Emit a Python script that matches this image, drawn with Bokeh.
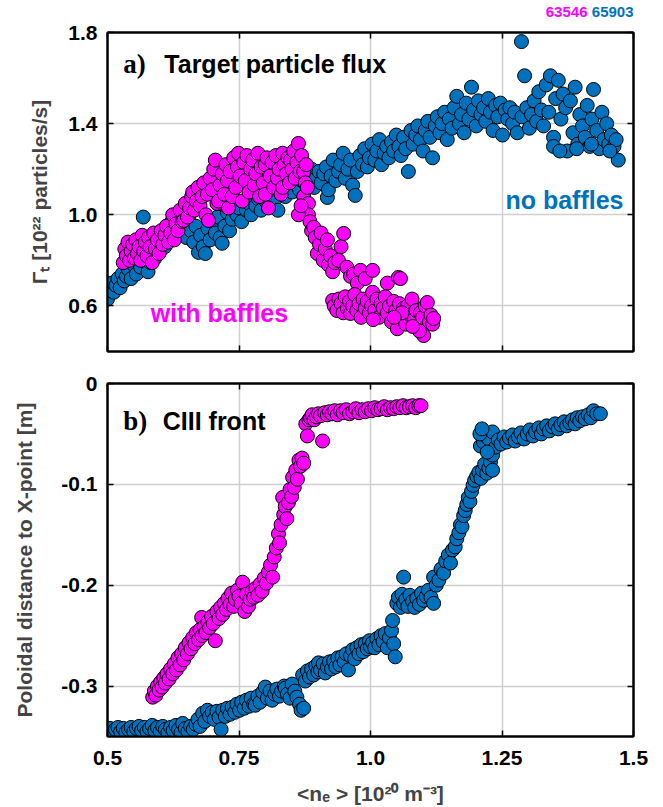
from bokeh.plotting import figure
from bokeh.layouts import column
from bokeh.models import Label, LinearAxis, FixedTicker, Range1d, NumeralTickFormatter, ColumnDataSource
from bokeh.embed import file_html
from bokeh.resources import INLINE

# ---------------- data ----------------
# (a) target particle flux, shot 65903 (no baffles)
flux_65903_ne = [
    0.500,0.504,0.508,0.512,0.516,0.520,0.524,0.528,0.532,0.536,
    0.540,0.545,0.550,0.555,0.559,0.563,0.568,0.572,0.577,0.582,
    0.586,0.590,0.595,0.600,0.604,0.609,0.613,0.618,0.622,0.627,
    0.631,0.636,0.640,0.645,0.650,0.654,0.659,0.664,0.668,0.673,
    0.677,0.682,0.686,0.691,0.695,0.700,0.705,0.709,0.714,0.718,
    0.723,0.728,0.732,0.737,0.741,0.746,0.750,0.755,0.760,0.764,
    0.769,0.773,0.778,0.782,0.787,0.792,0.796,0.801,0.805,0.810,
    0.815,0.819,0.824,0.828,0.833,0.838,0.842,0.847,0.851,0.856,
    0.861,0.865,0.870,0.874,0.879,0.884,0.888,0.893,0.897,0.902,
    0.906,0.911,0.916,0.918,0.920,0.925,0.929,0.934,0.939,0.943,
    0.948,0.952,0.957,0.962,0.966,0.971,0.975,0.980,0.985,0.989,
    0.994,0.998,1.003,1.008,1.012,1.017,1.021,1.026,1.031,1.035,
    1.040,1.044,1.049,1.054,1.058,1.063,1.067,1.072,1.077,1.081,
    1.086,1.090,1.095,1.100,1.104,1.109,1.113,1.118,1.123,1.127,
    1.132,1.136,1.141,1.146,1.150,1.155,1.159,1.164,1.169,1.173,
    1.178,1.182,1.187,1.192,1.196,1.201,1.205,1.210,1.215,1.219,
    1.224,1.228,1.233,1.238,1.242,1.247,1.251,1.256,1.261,1.265,
    1.270,1.274,1.279,1.287,1.293,1.288,1.297,1.302,1.306,1.311,
    1.316,1.320,1.325,1.329,1.334,1.339,1.342,1.348,1.352,1.357,
    1.362,1.366,1.371,1.374,1.380,1.385,1.389,1.394,1.398,1.403,
    1.408,1.412,1.417,1.421,1.424,1.430,1.435,1.440,1.444,1.449,
    1.453,1.458,1.463,1.467,1.471,1.348,1.360,1.392,1.420,1.455,
]
flux_65903 = [
    0.63,0.67,0.70,0.66,0.69,0.72,0.68,0.74,0.71,0.73,
    0.76,0.72,0.78,0.74,0.80,0.77,0.99,0.82,0.75,0.79,
    0.85,0.81,0.88,0.84,0.91,0.86,0.95,0.89,0.97,0.92,
    0.98,0.94,1.01,0.96,0.90,0.99,0.93,0.88,0.95,0.835,
    0.91,0.86,0.83,0.94,0.89,0.97,0.92,0.99,0.90,0.875,
    0.95,1.01,0.93,0.98,1.04,1.00,1.03,0.97,1.06,1.02,
    1.05,1.00,1.08,1.04,1.07,1.02,1.10,1.06,1.09,1.04,
    1.12,1.07,1.02,1.10,1.14,1.08,1.12,1.16,1.10,1.14,
    1.18,1.11,1.15,1.21,1.13,1.17,1.20,1.12,1.16,1.19,
    1.14,1.18,1.21,1.076,1.11,1.17,1.24,1.15,1.19,1.22,
    1.27,1.16,1.20,1.24,1.13,1.085,1.19,1.26,1.22,1.29,
    1.21,1.25,1.31,1.24,1.28,1.33,1.22,1.27,1.30,1.25,
    1.32,1.28,1.35,1.30,1.26,1.34,1.29,1.19,1.37,1.31,
    1.35,1.39,1.33,1.28,1.37,1.41,1.34,1.25,1.39,1.43,
    1.36,1.40,1.45,1.33,1.42,1.38,1.47,1.52,1.40,1.44,
    1.36,1.49,1.42,1.56,1.46,1.39,1.50,1.44,1.47,1.41,
    1.51,1.45,1.37,1.48,1.43,1.49,1.35,1.46,1.42,1.47,
    1.40,1.45,1.36,1.76,1.61,1.43,1.47,1.38,1.44,1.50,
    1.41,1.54,1.46,1.39,1.57,1.45,1.61,1.34,1.51,1.59,
    1.42,1.53,1.47,1.28,1.50,1.36,1.56,1.31,1.44,1.39,
    1.34,1.48,1.30,1.42,1.55,1.37,1.29,1.45,1.33,1.40,
    1.31,1.35,1.30,1.33,1.24,1.30,1.28,1.29,1.31,1.28,
]

# (a) target particle flux, shot 63546 (with baffles)
flux_63546_ne = [
    0.530,0.533,0.536,0.539,0.542,0.545,0.548,0.551,0.554,0.557,
    0.560,0.563,0.566,0.569,0.572,0.575,0.578,0.581,0.585,0.588,
    0.591,0.595,0.598,0.602,0.605,0.609,0.612,0.616,0.620,0.624,
    0.627,0.630,0.634,0.638,0.642,0.645,0.648,0.652,0.656,0.660,
    0.662,0.665,0.669,0.672,0.676,0.680,0.683,0.687,0.690,0.692,
    0.695,0.699,0.702,0.705,0.708,0.711,0.714,0.718,0.722,0.725,
    0.728,0.730,0.733,0.737,0.740,0.744,0.747,0.749,0.752,0.756,
    0.759,0.762,0.765,0.769,0.772,0.776,0.779,0.782,0.786,0.789,
    0.792,0.796,0.800,0.800,0.803,0.806,0.809,0.813,0.816,0.820,
    0.823,0.826,0.830,0.833,0.833,0.836,0.840,0.843,0.846,0.848,
    0.851,0.854,0.857,0.860,0.863,0.866,0.869,0.873,0.873,0.876,
    0.878,0.880,0.882,0.882,0.863,0.868,0.885,0.888,0.892,0.895,
    0.899,0.903,0.906,0.910,0.914,0.918,0.920,0.924,0.928,0.932,
    0.939,0.944,0.949,0.955,0.962,0.968,0.975,0.981,0.990,1.004,
    1.032,1.053,1.057,0.928,0.931,0.936,0.940,0.944,0.948,0.952,
    0.956,0.960,0.962,0.966,0.970,0.974,0.978,0.982,0.986,0.990,
    0.994,0.998,1.002,1.004,1.008,1.012,1.016,1.020,1.024,1.028,
    1.032,1.036,1.040,1.044,1.048,1.051,1.055,1.059,1.063,1.067,
    1.071,1.075,1.079,1.083,1.087,1.091,1.095,1.099,1.101,1.104,
    1.108,1.112,1.115,1.118,1.120,1.093,1.080,1.060,1.045,1.005,
]
flux_63546 = [
    0.79,0.85,0.82,0.88,0.80,0.84,0.87,0.81,0.89,0.83,
    0.86,0.80,0.91,0.84,0.88,0.82,0.90,0.86,0.79,0.92,
    0.85,0.89,0.83,0.93,0.87,0.91,0.95,0.88,0.92,1.00,
    0.89,0.96,0.93,1.02,0.97,0.975,1.05,0.99,1.03,1.08,
    1.10,1.02,1.06,1.12,1.04,1.08,1.14,1.00,1.09,0.975,
    1.16,1.11,1.20,1.24,1.05,1.06,1.13,1.18,1.09,1.22,
    1.15,1.03,1.19,1.08,1.25,1.12,1.21,1.27,1.17,1.06,
    1.23,1.15,1.26,1.10,1.20,1.24,1.13,1.18,1.27,1.08,
    1.21,1.14,1.22,1.09,1.25,1.03,1.17,1.23,1.12,1.26,
    1.16,1.20,1.09,1.27,1.12,1.22,1.18,1.25,1.14,1.24,
    1.20,1.28,1.16,1.23,1.313,1.19,1.26,1.19,1.08,1.14,
    1.22,1.12,1.05,1.00,1.00,1.04,0.97,0.93,0.945,0.90,
    0.83,0.87,0.92,0.80,0.85,0.89,0.78,0.82,0.75,0.79,
    0.80,0.86,0.918,0.77,0.73,0.74,0.70,0.756,0.72,0.756,
    0.70,0.725,0.72,0.624,0.60,0.58,0.63,0.61,0.57,0.64,
    0.59,0.62,0.567,0.60,0.65,0.58,0.61,0.55,0.63,0.59,
    0.62,0.57,0.60,0.66,0.58,0.63,0.55,0.61,0.59,0.64,
    0.57,0.60,0.53,0.62,0.58,0.50,0.61,0.55,0.59,0.52,
    0.60,0.56,0.63,0.54,0.58,0.51,0.57,0.55,0.47,0.60,
    0.615,0.53,0.56,0.52,0.545,0.49,0.51,0.57,0.55,0.54,
]

# (b) CIII front position, shot 63546
front_63546_ne = [
    0.586,0.589,0.592,0.595,0.598,0.601,0.604,0.607,0.610,0.613,
    0.617,0.620,0.624,0.627,0.631,0.634,0.638,0.641,0.645,0.648,
    0.652,0.655,0.659,0.662,0.666,0.669,0.673,0.676,0.679,0.680,
    0.684,0.687,0.691,0.694,0.698,0.701,0.705,0.708,0.712,0.715,
    0.719,0.722,0.726,0.729,0.733,0.736,0.740,0.743,0.747,0.750,
    0.754,0.757,0.761,0.764,0.768,0.771,0.775,0.778,0.782,0.786,
    0.790,0.794,0.798,0.802,0.806,0.810,0.814,0.817,0.821,0.825,
    0.827,0.830,0.833,0.835,0.838,0.841,0.844,0.847,0.850,0.852,
    0.855,0.858,0.861,0.864,0.867,0.870,0.873,0.877,0.880,0.883,
    0.886,0.889,0.893,0.897,0.901,0.905,0.909,0.913,0.918,0.922,
    0.927,0.932,0.937,0.943,0.948,0.954,0.960,0.966,0.972,0.978,
    0.984,0.990,0.996,1.002,1.008,1.014,1.020,1.026,1.032,1.038,
    1.044,1.050,1.056,1.062,1.068,1.074,1.080,1.086,1.092,1.096,
]
front_63546 = [
    -0.311,-0.305,-0.309,-0.300,-0.304,-0.296,-0.301,-0.292,-0.297,-0.288,
    -0.293,-0.283,-0.288,-0.278,-0.284,-0.272,-0.279,-0.268,-0.274,-0.262,
    -0.268,-0.257,-0.263,-0.252,-0.258,-0.247,-0.254,-0.244,-0.232,-0.250,
    -0.241,-0.247,-0.236,-0.242,-0.231,-0.238,-0.255,-0.226,-0.233,-0.222,
    -0.229,-0.218,-0.224,-0.213,-0.219,-0.208,-0.221,-0.214,-0.205,-0.211,
    -0.218,-0.197,-0.226,-0.209,-0.221,-0.214,-0.206,-0.212,-0.203,-0.210,
    -0.199,-0.206,-0.193,-0.198,-0.187,-0.180,-0.192,-0.172,-0.163,-0.149,
    -0.158,-0.140,-0.113,-0.130,-0.122,-0.134,-0.118,-0.105,-0.112,-0.093,
    -0.103,-0.086,-0.095,-0.076,-0.082,-0.074,-0.079,-0.040,-0.052,-0.036,
    -0.034,-0.031,-0.036,-0.033,-0.030,-0.032,-0.057,-0.029,-0.031,-0.028,
    -0.030,-0.027,-0.031,-0.027,-0.029,-0.026,-0.030,-0.028,-0.025,-0.029,
    -0.026,-0.028,-0.025,-0.027,-0.024,-0.026,-0.025,-0.023,-0.026,-0.024,
    -0.025,-0.023,-0.024,-0.022,-0.024,-0.023,-0.022,-0.024,-0.022,-0.022,
]

# (b) CIII front position, shot 65903
front_65903_ne = [
    0.500,0.505,0.510,0.515,0.520,0.525,0.530,0.535,0.540,0.545,
    0.550,0.555,0.560,0.565,0.570,0.575,0.580,0.585,0.590,0.595,
    0.600,0.605,0.610,0.615,0.620,0.625,0.630,0.635,0.640,0.643,
    0.648,0.653,0.658,0.663,0.668,0.672,0.676,0.681,0.685,0.690,
    0.694,0.699,0.703,0.708,0.712,0.716,0.719,0.724,0.728,0.733,
    0.737,0.742,0.746,0.751,0.755,0.760,0.764,0.769,0.773,0.778,
    0.781,0.786,0.790,0.795,0.800,0.804,0.809,0.813,0.818,0.822,
    0.827,0.831,0.836,0.838,0.842,0.847,0.851,0.856,0.860,0.865,
    0.868,0.871,0.873,0.876,0.880,0.884,0.888,0.892,0.896,0.900,
    0.901,0.905,0.910,0.914,0.918,0.922,0.926,0.930,0.934,0.938,
    0.942,0.946,0.950,0.954,0.958,0.962,0.966,0.970,0.974,0.978,
    0.982,0.986,0.990,0.994,0.998,1.000,1.004,1.008,1.012,1.016,
    1.020,1.024,1.028,1.032,1.036,1.040,1.042,1.044,1.047,1.050,
    1.053,1.057,1.060,1.063,1.063,1.067,1.071,1.075,1.080,1.084,
    1.088,1.093,1.097,1.101,1.106,1.110,1.115,1.120,1.120,1.125,
    1.130,1.134,1.139,1.143,1.148,1.152,1.156,1.161,1.164,1.168,
    1.171,1.174,1.177,1.180,1.183,1.186,1.189,1.192,1.195,1.198,
    1.202,1.206,1.210,1.213,1.217,1.221,1.225,1.228,1.232,1.232,
    1.209,1.215,1.220,1.225,1.232,1.238,1.243,1.248,1.254,1.259,
    1.264,1.270,1.275,1.281,1.286,1.292,1.298,1.303,1.309,1.314,
    1.320,1.325,1.329,1.335,1.340,1.346,1.351,1.357,1.362,1.368,
    1.373,1.379,1.384,1.389,1.393,1.398,1.403,1.408,1.414,1.419,
    1.424,1.430,1.437,1.208,1.212,1.222,
]
front_65903 = [
    -0.345,-0.342,-0.346,-0.343,-0.341,-0.345,-0.342,-0.346,-0.343,-0.341,
    -0.345,-0.342,-0.340,-0.344,-0.341,-0.345,-0.342,-0.339,-0.344,-0.341,
    -0.345,-0.340,-0.343,-0.346,-0.341,-0.344,-0.339,-0.343,-0.346,-0.337,
    -0.342,-0.345,-0.340,-0.343,-0.338,-0.333,-0.340,-0.327,-0.335,-0.324,
    -0.330,-0.326,-0.333,-0.325,-0.331,-0.343,-0.324,-0.330,-0.322,-0.328,
    -0.321,-0.326,-0.318,-0.324,-0.316,-0.322,-0.314,-0.320,-0.312,-0.318,
    -0.319,-0.310,-0.316,-0.306,-0.301,-0.312,-0.305,-0.314,-0.308,-0.303,
    -0.310,-0.305,-0.300,-0.302,-0.308,-0.312,-0.298,-0.305,-0.311,-0.318,
    -0.324,-0.289,-0.322,-0.295,-0.285,-0.291,-0.283,-0.289,-0.280,-0.286,
    -0.277,-0.284,-0.278,-0.287,-0.281,-0.276,-0.283,-0.275,-0.281,-0.272,
    -0.279,-0.271,-0.276,-0.268,-0.284,-0.270,-0.264,-0.273,-0.262,-0.268,
    -0.259,-0.266,-0.258,-0.263,-0.255,-0.261,-0.257,-0.262,-0.253,-0.259,
    -0.250,-0.256,-0.248,-0.262,-0.252,-0.245,-0.235,-0.258,-0.271,-0.218,
    -0.212,-0.222,-0.209,-0.192,-0.218,-0.214,-0.221,-0.210,-0.216,-0.222,
    -0.213,-0.219,-0.208,-0.215,-0.211,-0.205,-0.212,-0.218,-0.192,-0.200,
    -0.195,-0.184,-0.188,-0.176,-0.170,-0.178,-0.165,-0.162,-0.154,-0.148,
    -0.140,-0.142,-0.131,-0.126,-0.120,-0.113,-0.117,-0.107,-0.101,-0.096,
    -0.092,-0.088,-0.094,-0.086,-0.080,-0.089,-0.084,-0.078,-0.086,-0.071,
    -0.062,-0.058,-0.052,-0.055,-0.048,-0.063,-0.056,-0.060,-0.053,-0.058,
    -0.054,-0.051,-0.057,-0.053,-0.049,-0.055,-0.050,-0.046,-0.052,-0.048,
    -0.044,-0.050,-0.045,-0.042,-0.047,-0.043,-0.040,-0.045,-0.041,-0.038,
    -0.042,-0.039,-0.036,-0.040,-0.034,-0.037,-0.033,-0.035,-0.031,-0.034,
    -0.027,-0.030,-0.030,-0.050,-0.045,-0.068,
]

x_ticks = [0.5, 0.75, 1.0, 1.25, 1.5]
flux_ticks = [0.6, 1.0, 1.4, 1.8]
front_ticks = [-0.3, -0.2, -0.1, 0.0]
shots = ["63546", "65903"]

# ---------------- styles ----------------
MAGENTA = "#FF00FF"
BLUE = "#0072BD"
SANS = "'Liberation Sans', Arial, sans-serif"
SERIF = "'Liberation Serif', 'Times New Roman', serif"
W_LEFT, W_FRAME, W_RIGHT = 107, 526, 30
HDR_H = 20


def style_axis(ax, ticks, fmt, show_labels, standoff=10):
    ax.ticker = FixedTicker(ticks=ticks, minor_ticks=[])
    ax.formatter = NumeralTickFormatter(format=fmt)
    ax.major_tick_in = 6
    ax.major_tick_out = 0
    ax.minor_tick_in = 0
    ax.minor_tick_out = 0
    ax.major_tick_line_color = "black"
    ax.major_tick_line_width = 1.5
    ax.axis_line_color = "black"
    ax.axis_line_width = 2
    if show_labels:
        ax.major_label_text_font = SANS
        ax.major_label_text_font_style = "bold"
        ax.major_label_text_font_size = "21px"
        ax.major_label_text_color = "black"
        ax.major_label_standoff = standoff
    else:
        ax.major_label_text_font_size = "1px"
        ax.major_label_text_color = None
        ax.major_label_standoff = 0
        ax.axis_label_standoff = 0


def make_panel(yr, yticks, yfmt, frame_h, top_b, bot_b, show_x, top_axis=True):
    p = figure(frame_width=W_FRAME, frame_height=frame_h,
               x_range=Range1d(0.5, 1.5), y_range=Range1d(*yr),
               output_backend="svg", toolbar_location=None,
               min_border_left=W_LEFT, min_border_right=W_RIGHT,
               min_border_top=top_b, min_border_bottom=bot_b,
               background_fill_color="white", border_fill_color="white")
    p.outline_line_color = "black"
    p.outline_line_width = 2
    p.outline_line_alpha = 1
    xb = p.xaxis[0]
    yl = p.yaxis[0]
    style_axis(xb, x_ticks, "0.0[0]", show_x, standoff=14)
    style_axis(yl, yticks, yfmt, True, standoff=10)
    extra = [("right", yticks)]
    if top_axis:
        extra.append(("above", x_ticks))
    for place, rng_ticks in extra:
        ax = LinearAxis()
        style_axis(ax, rng_ticks, "0.0", False)
        p.add_layout(ax, place)
    p.xgrid.ticker = FixedTicker(ticks=x_ticks)
    p.ygrid.ticker = FixedTicker(ticks=yticks)
    for g in (p.xgrid[0], p.ygrid[0]):
        g.grid_line_color = "#cfcfcf"
        g.grid_line_width = 1.5
    return p, xb, yl


def add_series(p, xs, ys, color):
    src = ColumnDataSource(dict(x=xs, y=ys))
    p.scatter("x", "y", source=src, size=14, marker="circle",
              fill_color=color, line_color="black", line_width=1)


def add_text(p, x, y, text, font, size, color="black", align="left", baseline="alphabetic"):
    p.add_layout(Label(x=x, y=y, text=text, text_font=font, text_font_style="bold",
                       text_font_size=size, text_color=color, text_align=align,
                       text_baseline=baseline))


# ---------------- shot-number header (same horizontal frame as the panels) ----------------
hdr = figure(frame_width=W_FRAME, frame_height=HDR_H,
             x_range=Range1d(0.5, 1.5), y_range=Range1d(0, HDR_H),
             output_backend="svg", toolbar_location=None,
             min_border_left=W_LEFT, min_border_right=W_RIGHT,
             min_border_top=0, min_border_bottom=0, outline_line_color=None)
hdr.axis.visible = False
hdr.grid.visible = False
add_text(hdr, 1.4125, 8.5, shots[0], SANS, "15px", MAGENTA, align="right", baseline="middle")
add_text(hdr, 1.5, 8.5, shots[1], SANS, "15px", BLUE, align="right", baseline="middle")

# ---------------- panel a ----------------
pa, pa_x, pa_y = make_panel((0.4, 1.8), flux_ticks, "0.0", 319, 32 - HDR_H, 16, False, top_axis=True)
pa_y.axis_label = "Γₜ [10²² particles/s]"
pa_y.axis_label_text_font = SANS
pa_y.axis_label_text_font_style = "bold"
pa_y.axis_label_text_font_size = "21px"
pa_y.axis_label_standoff = 14
add_series(pa, flux_65903_ne, flux_65903, BLUE)
add_series(pa, flux_63546_ne, flux_63546, MAGENTA)
add_text(pa, 0.530, 1.66, "a)", SERIF, "27px")
add_text(pa, 0.608, 1.66, "Target particle flux", SANS, "25px")
add_text(pa, 0.582, 0.567, "with baffles", SANS, "25px", MAGENTA)
add_text(pa, 1.481, 1.063, "no baffles", SANS, "25px", BLUE, align="right")

# ---------------- panel b ----------------
pb, pb_x, pb_y = make_panel((-0.35, 0.0), front_ticks, "0.[0]", 353, 16, 71, True)
pb_y.axis_label = "Poloidal distance to X-point [m]"
pb_y.axis_label_text_font = SANS
pb_y.axis_label_text_font_style = "bold"
pb_y.axis_label_text_font_size = "21px"
pb_y.axis_label_standoff = 22
pb_x.axis_label = "<nₑ > [10²⁰ m⁻³]"
pb_x.axis_label_text_font = SANS
pb_x.axis_label_text_font_style = "bold"
pb_x.axis_label_text_font_size = "21px"
pb_x.axis_label_standoff = 14
add_series(pb, front_63546_ne, front_63546, MAGENTA)
add_series(pb, front_65903_ne, front_65903, BLUE)
add_text(pb, 0.530, -0.0376, "b)", SERIF, "27px")
add_text(pb, 0.605, -0.0376, "CIII front", SANS, "25px")

layout = column(hdr, pa, pb, spacing=0)
open("out.html", "w").write(file_html(layout, INLINE))
